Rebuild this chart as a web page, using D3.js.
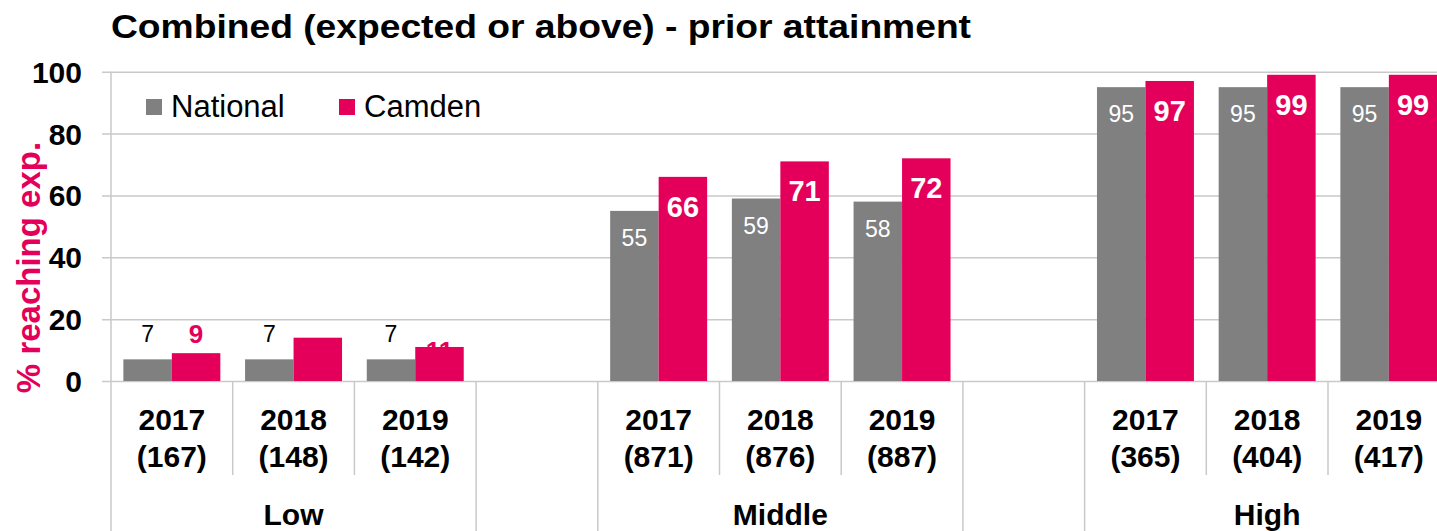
<!DOCTYPE html>
<html>
<head>
<meta charset="utf-8">
<script src="https://cdn.jsdelivr.net/npm/d3@7"></script>
<style>
  html, body { margin: 0; padding: 0; background: #fff; }
  svg { display: block; font-family: "Liberation Sans", Arial, sans-serif; }
</style>
</head>
<body>
<svg id="chart" width="1437" height="531"></svg>
<script>
// Prior attainment bands, years and cohort sizes
const bands = ["Low", "Middle", "High"];
const years = ["2017", "2018", "2019"];
const pupils = [[167, 148, 142], [871, 876, 887], [365, 404, 417]];
// % reaching expected standard (combined)
const national = [[7, 7, 7], [55, 59, 58], [95, 95, 95]];
const camden = [[9, 14, 11], [66, 71, 72], [97, 99, 99]];
const seriesNames = ["National", "Camden"];
const yTicks = [0, 20, 40, 60, 80, 100];

const GREY = "#808080", PINK = "#E4005A", GRID = "#c9c9c9";
const W = 1437, H = 531;
const left = 111, slotW = 121.7;
const plotTop = 71.7, plotBottom = 381;

// One slot per year, with an empty slot between bands
const slots = [];
bands.forEach((b, bi) => {
  if (bi > 0) slots.push({ key: "gap" + bi, spacer: true });
  years.forEach((yr, yi) => slots.push({
    key: b + "|" + yr, band: b, bi, yi, year: yr, n: pupils[bi][yi],
    values: [national[bi][yi], camden[bi][yi]]
  }));
});

const x = d3.scaleBand().domain(slots.map(s => s.key))
  .range([left, left + slotW * slots.length]).padding(0);
const xs = d3.scaleBand().domain(seriesNames)
  .range([0, x.bandwidth()]).paddingInner(0).paddingOuter(0.255);
const y = d3.scaleLinear().domain([0, 100]).range([plotBottom, plotTop]);

const svg = d3.select("#chart");

// Title
svg.append("text").attr("x", left).attr("y", 38)
  .attr("font-size", 34).attr("font-weight", "bold").attr("fill", "#000")
  .attr("textLength", 860).attr("lengthAdjust", "spacingAndGlyphs")
  .text("Combined (expected or above) - prior attainment");

// Value axis with gridlines
const yAxis = svg.append("g").attr("transform", `translate(${left},0)`)
  .call(d3.axisLeft(y).tickValues(yTicks).tickSize(-(W - left)).tickSizeOuter(0).tickPadding(29));
yAxis.select(".domain").remove();
yAxis.selectAll(".tick line").attr("x1", -9).attr("stroke", GRID).attr("stroke-width", 1.5);
yAxis.selectAll(".tick text").attr("font-size", 30).attr("font-weight", "bold")
  .attr("fill", "#000").attr("font-family", "'Liberation Sans', Arial, sans-serif")
  .attr("dy", "0.35em");

// Axis title
svg.append("text")
  .attr("transform", `translate(40,${(140 + 395) / 2}) rotate(-90)`)
  .attr("text-anchor", "middle").attr("font-size", 33).attr("font-weight", "bold")
  .attr("fill", PINK).text("% reaching exp.");

// Category separators
const boundaries = [];
slots.forEach((s, i) => {
  const xl = x(s.key);
  const prev = slots[i - 1];
  const full = i === 0 || s.spacer || (prev && prev.spacer);
  boundaries.push({ x: xl, full });
});
boundaries.push({ x: x.range()[1], full: true });
svg.append("g").selectAll("line").data(boundaries).join("line")
  .attr("x1", d => d.x).attr("x2", d => d.x)
  .attr("y1", plotBottom).attr("y2", d => d.full ? H : 475)
  .attr("stroke", GRID).attr("stroke-width", 1.5);
// value axis line
svg.append("line").attr("x1", left).attr("x2", left)
  .attr("y1", plotTop).attr("y2", plotBottom)
  .attr("stroke", GRID).attr("stroke-width", 1.5);

// Bars
const data = slots.filter(s => !s.spacer);
const groups = svg.append("g").selectAll("g").data(data).join("g")
  .attr("transform", d => `translate(${x(d.key)},0)`);
groups.selectAll("rect").data(d => d.values.map((v, si) => ({ v, si, d })))
  .join("rect")
  .attr("x", e => xs(seriesNames[e.si]))
  .attr("width", xs.bandwidth())
  .attr("y", e => y(e.v))
  .attr("height", e => y(0) - y(e.v))
  .attr("fill", e => e.si === 0 ? GREY : PINK);

// Camden labels in the Low band sit on or just above short bars
const lowCamdenShift = { "2017": -10, "2018": 25, "2019": 13.3 };
groups.selectAll("text.val").data(d => d.values.map((v, si) => ({ v, si, d })))
  .join("text").attr("class", "val")
  .attr("text-anchor", "middle")
  .attr("x", e => xs(seriesNames[e.si]) + xs.bandwidth() / 2)
  .each(function (e) {
    const t = d3.select(this);
    const low = e.d.band === "Low";
    if (e.si === 0) {
      t.attr("font-size", 23).attr("fill", low ? "#000" : "#fff")
        .attr("y", low ? y(e.v) - 17.7 : y(e.v) + 35);
    } else {
      t.attr("font-weight", "bold")
        .attr("font-size", low ? 26 : 29)
        .attr("fill", low ? PINK : "#fff")
        .attr("y", low ? y(e.v) + lowCamdenShift[e.d.year] : y(e.v) + 40);
    }
  })
  .text(e => e.v);

// Year / cohort labels
const cat = svg.append("g").selectAll("text").data(data).join("text")
  .attr("text-anchor", "middle").attr("font-size", 30).attr("font-weight", "bold")
  .attr("fill", "#000");
cat.append("tspan").attr("x", d => x(d.key) + x.bandwidth() / 2).attr("y", 430).text(d => d.year);
cat.append("tspan").attr("x", d => x(d.key) + x.bandwidth() / 2).attr("y", 467).text(d => `(${d.n})`);

// Band labels
svg.append("g").selectAll("text").data(bands).join("text")
  .attr("text-anchor", "middle").attr("font-size", 30).attr("font-weight", "bold")
  .attr("fill", "#000").attr("y", 525)
  .attr("x", b => x(b + "|2018") + x.bandwidth() / 2)
  .text(b => b);

// Legend
const legend = svg.append("g");
const legendX = [146, 339];
seriesNames.forEach((name, i) => {
  legend.append("rect").attr("x", legendX[i]).attr("y", 99).attr("width", 16).attr("height", 16)
    .attr("fill", i === 0 ? GREY : PINK);
  legend.append("text").attr("x", legendX[i] + 25).attr("y", 116.5)
    .attr("font-size", 31).attr("fill", "#000").text(name);
});
</script>
</body>
</html>
